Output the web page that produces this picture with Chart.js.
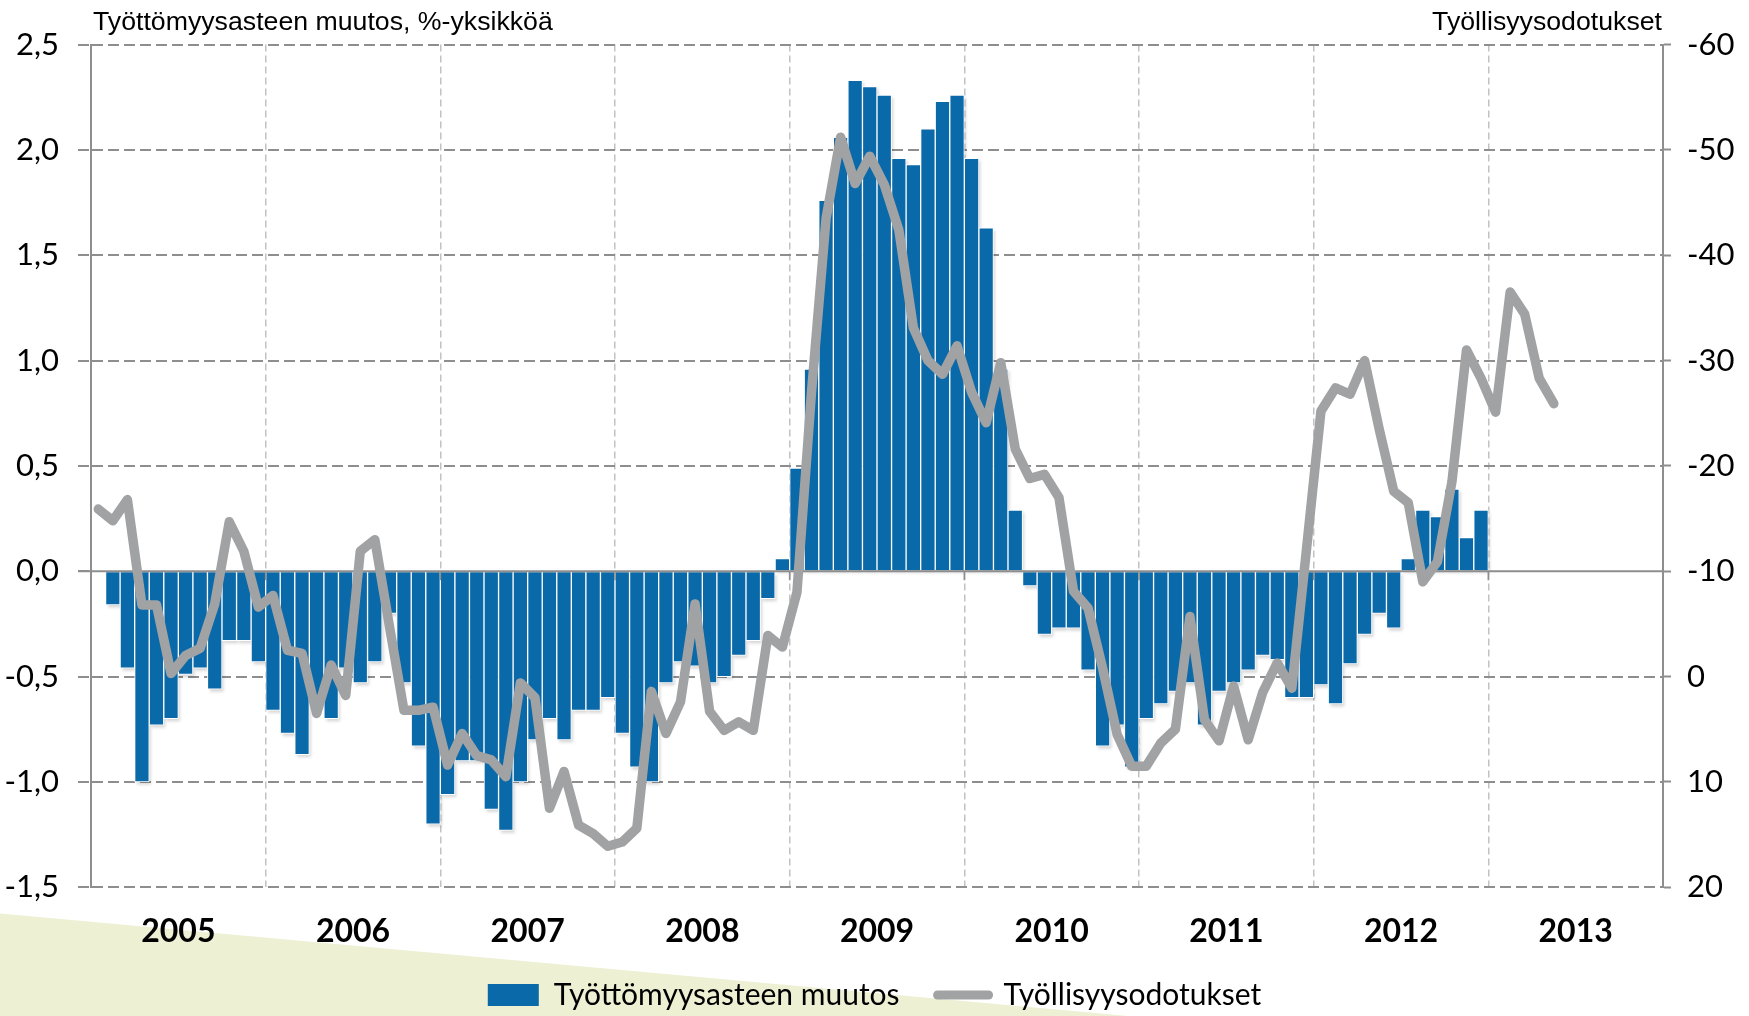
<!DOCTYPE html>
<html>
<head>
<meta charset="utf-8">
<script src="https://cdn.jsdelivr.net/npm/chart.js@4.4.1/dist/chart.umd.min.js"></script>
<style>
  html, body { margin: 0; padding: 0; background: #ffffff; }
  canvas { display: block; }
</style>
</head>
<body>
<canvas id="c" width="1749" height="1016"></canvas>
<script>
// ---- categories ----
const years = ['2005', '2006', '2007', '2008', '2009', '2010', '2011', '2012', '2013'];
const monthCodes = ['01', '02', '03', '04', '05', '06', '07', '08', '09', '10', '11', '12'];
const months = years.flatMap(y => monthCodes.map(m => y + '-' + m));

// ---- series ----
// Työttömyysasteen muutos, %-yksikköä (left axis), 2005-01 ... 2012-12
const unemploymentChange = [
  null, -0.16, -0.46, -1.00, -0.73, -0.70, -0.49, -0.46, -0.56, -0.33, -0.33, -0.43,
  -0.66, -0.77, -0.87, -0.62, -0.70, -0.46, -0.53, -0.43, -0.20, -0.53, -0.83, -1.20,
  -1.06, -0.90, -0.90, -1.13, -1.23, -1.00, -0.80, -0.70, -0.80, -0.66, -0.66, -0.60,
  -0.77, -0.93, -1.00, -0.53, -0.43, -0.45, -0.53, -0.50, -0.40, -0.33, -0.13, 0.06,
  0.49, 0.96, 1.76, 2.06, 2.33, 2.30, 2.26, 1.96, 1.93, 2.10, 2.23, 2.26,
  1.96, 1.63, 0.96, 0.29, -0.07, -0.30, -0.27, -0.27, -0.47, -0.83, -0.73, -0.93,
  -0.70, -0.63, -0.57, -0.53, -0.73, -0.57, -0.53, -0.47, -0.40, -0.42, -0.60, -0.60,
  -0.54, -0.63, -0.44, -0.30, -0.20, -0.27, 0.06, 0.29, 0.26, 0.39, 0.16, 0.29
];
// Työllisyysodotukset (right axis, reversed), 2005-01 ... 2013-05
const employmentExpectations = [
  -15.9, -14.8, -16.8, -6.8, -6.8, -0.3, -2.0, -2.7, -6.9, -14.7, -11.9, -6.6,
  -7.7, -2.5, -2.2, 3.5, -1.1, 1.8, -11.9, -13.0, -4.8, 3.2, 3.2, 2.9,
  8.4, 5.4, 7.5, 7.9, 9.5, 0.6, 2.0, 12.5, 9.0, 14.1, 14.9, 16.1,
  15.7, 14.4, 1.4, 5.4, 2.4, -6.9, 3.3, 5.1, 4.3, 5.1, -3.9, -2.8,
  -8.0, -27.0, -43.5, -51.2, -46.8, -49.4, -46.7, -42.4, -33.1, -30.0, -28.7, -31.4,
  -27.0, -24.1, -29.8, -21.6, -18.8, -19.2, -17.0, -8.1, -6.5, -0.8, 5.5, 8.5,
  8.5, 6.3, 5.0, -5.7, 4.1, 6.1, 0.9, 6.0, 1.5, -1.3, 1.1, -12.0,
  -25.2, -27.4, -26.8, -30.0, -23.5, -17.6, -16.5, -9.0, -10.9, -18.5, -31.0, -28.3,
  -25.1, -36.5, -34.4, -28.3, -25.9
];

// ---- tick labels ----
const leftTickValues = [-1.5, -1.0, -0.5, 0, 0.5, 1.0, 1.5, 2.0, 2.5];
const leftTickLabels = ['-1,5', '-1,0', '-0,5', '0,0', '0,5', '1,0', '1,5', '2,0', '2,5'];
const rightTickValues = [-60, -50, -40, -30, -20, -10, 0, 10, 20];
const rightTickLabels = ['-60', '-50', '-40', '-30', '-20', '-10', '0', '10', '20'];

// ---- texts ----
const seriesNames = ['Työttömyysasteen muutos', 'Työllisyysodotukset'];
const axisTitles = ['Työttömyysasteen muutos, %-yksikköä', 'Työllisyysodotukset'];

// ---- styles ----
const BLUE = '#0a69a9';
const GREY_LINE = '#a1a2a4';
const GRID = '#8e8e8e';
const VGRID = '#c2c2c2';
const TICK_FONT = { family: 'Lato', size: 31 };

function labelFor(values, labels, v) {
  const k = values.findIndex(t => Math.abs(t - v) < 1e-9);
  return k >= 0 ? labels[k] : '';
}

const decorPlugin = {
  id: 'decor',
  beforeDraw(chart) {
    const ctx = chart.ctx, W = chart.width, H = chart.height;
    ctx.save();
    ctx.fillStyle = '#ffffff';
    ctx.fillRect(0, 0, W, H);
    ctx.fillStyle = '#edf0d2';
    ctx.beginPath();
    ctx.moveTo(0, H * 0.899);
    ctx.lineTo(W * 0.645, H);
    ctx.lineTo(0, H);
    ctx.closePath();
    ctx.fill();
    ctx.restore();
  },
  beforeDatasetDraw(chart, args) {
    if (args.meta.type !== 'bar') return;
    const ctx = chart.ctx, a = chart.chartArea;
    ctx.save();
    ctx.beginPath();
    ctx.rect(a.left, a.top, a.right - a.left, a.bottom - a.top);
    ctx.clip();
    ctx.fillStyle = 'rgba(0,0,0,0.16)';
    ctx.filter = 'blur(1.5px)';
    args.meta.data.forEach(el => {
      if (el.skip) return;
      const p = el.getProps(['x', 'y', 'base', 'width'], true);
      if (p.y == null || isNaN(p.y)) return;
      const top = Math.min(p.y, p.base), bottom = Math.max(p.y, p.base);
      ctx.fillRect(p.x - p.width / 2 + 2.5, top + 2.5, p.width - 1, bottom - top);
    });
    ctx.restore();
  },
  afterDatasetDraw(chart, args) {
    if (args.meta.type !== 'bar') return;
    const ctx = chart.ctx, a = chart.chartArea;
    const y0 = chart.scales.y.getPixelForValue(0);
    const xs = chart.scales.x;
    ctx.save();
    ctx.strokeStyle = GRID;
    ctx.lineWidth = 2.2;
    ctx.beginPath();
    ctx.moveTo(a.left - 13, y0);
    ctx.lineTo(a.right, y0);
    ctx.stroke();
    ctx.lineWidth = 1.6;
    for (let k = 1; k < years.length; k++) {
      const bx = (xs.getPixelForValue(12 * k - 1) + xs.getPixelForValue(12 * k)) / 2;
      ctx.beginPath();
      ctx.moveTo(bx, y0);
      ctx.lineTo(bx, y0 + 9);
      ctx.stroke();
    }
    ctx.restore();
  },
  afterDraw(chart) {
    const ctx = chart.ctx, a = chart.chartArea;
    ctx.save();
    ctx.fillStyle = '#000000';
    ctx.font = '26.7px "Liberation Sans", Arial, sans-serif';
    ctx.textBaseline = 'middle';
    ctx.textAlign = 'left';
    ctx.fillText(axisTitles[0], a.left + 2, 23);
    ctx.textAlign = 'right';
    ctx.fillText(axisTitles[1], a.right - 1, 23);
    ctx.restore();
  }
};

const chart = new Chart(document.getElementById('c'), {
  data: {
    labels: months,
    datasets: [
      {
        type: 'bar',
        label: seriesNames[0],
        data: unemploymentChange,
        backgroundColor: BLUE,
        borderColor: '#ffffff',
        borderWidth: 1,
        barPercentage: 1.0,
        categoryPercentage: 1.0,
        xAxisID: 'x',
        yAxisID: 'y',
        order: 2
      },
      {
        type: 'line',
        label: seriesNames[1],
        data: employmentExpectations,
        borderColor: GREY_LINE,
        backgroundColor: GREY_LINE,
        borderWidth: 9.5,
        pointRadius: 0,
        tension: 0,
        fill: false,
        borderJoinStyle: 'round',
        borderCapStyle: 'round',
        xAxisID: 'x',
        yAxisID: 'y1',
        order: 1
      }
    ]
  },
  options: {
    responsive: false,
    animation: false,
    devicePixelRatio: 1,
    layout: { padding: { top: 44.5, left: 0, right: 0, bottom: -4 } },
    plugins: {
      tooltip: { enabled: false },
      title: { display: false },
      legend: {
        display: true,
        position: 'bottom',
        labels: {
          usePointStyle: true,
          pointStyleWidth: 51,
          boxHeight: 22,
          padding: 38,
          color: '#000000',
          font: { family: 'Lato', size: 30 },
          generateLabels: (ch) => [
            { text: ch.data.datasets[0].label, fillStyle: BLUE, strokeStyle: BLUE, lineWidth: 0,
              pointStyle: 'rect', datasetIndex: 0, hidden: false },
            { text: ch.data.datasets[1].label, fillStyle: GREY_LINE, strokeStyle: GREY_LINE, lineWidth: 9,
              lineCap: 'round', pointStyle: 'line', datasetIndex: 1, hidden: false }
          ]
        }
      }
    },
    scales: {
      x: {
        type: 'category',
        labels: months,
        display: false,
        offset: true,
        grid: { display: false }
      },
      xYear: {
        type: 'category',
        labels: years,
        position: 'bottom',
        offset: true,
        grid: {
          offset: true,
          drawTicks: false,
          lineWidth: 1.5,
          color: (c) => (c.type !== 'tick' || c.index === 0) ? 'rgba(0,0,0,0)' : VGRID
        },
        border: { display: false, dash: [7, 4] },
        ticks: {
          autoSkip: false,
          maxRotation: 0,
          padding: 25.5,
          color: '#000000',
          font: { family: 'Lato', size: 32, weight: 'bold' }
        },
        afterFit: (s) => { s.height = 54.7; }
      },
      y: {
        type: 'linear',
        position: 'left',
        min: -1.5,
        max: 2.5,
        ticks: {
          stepSize: 0.5,
          padding: 19,
          color: '#000000',
          font: TICK_FONT,
          callback: (v) => labelFor(leftTickValues, leftTickLabels, v)
        },
        grid: {
          color: (c) => (c.tick && Math.abs(c.tick.value) < 1e-9) ? 'rgba(0,0,0,0)' : GRID,
          lineWidth: 2,
          tickLength: 13,
          tickColor: GRID,
          tickWidth: 2,
          tickBorderDash: [11, 5]
        },
        border: { display: true, color: GRID, width: 2, dash: [11, 5] },
        afterFit: (s) => { s.width = 91; }
      },
      y1: {
        type: 'linear',
        position: 'right',
        reverse: true,
        min: -60,
        max: 20,
        ticks: {
          stepSize: 10,
          padding: 16,
          color: '#000000',
          font: TICK_FONT,
          callback: (v) => labelFor(rightTickValues, rightTickLabels, v)
        },
        grid: {
          drawOnChartArea: false,
          tickLength: 8,
          tickColor: GRID,
          tickWidth: 2
        },
        border: { display: true, color: GRID, width: 2 },
        afterFit: (s) => { s.width = 86; }
      }
    }
  },
  plugins: [decorPlugin]
});
</script>
</body>
</html>
